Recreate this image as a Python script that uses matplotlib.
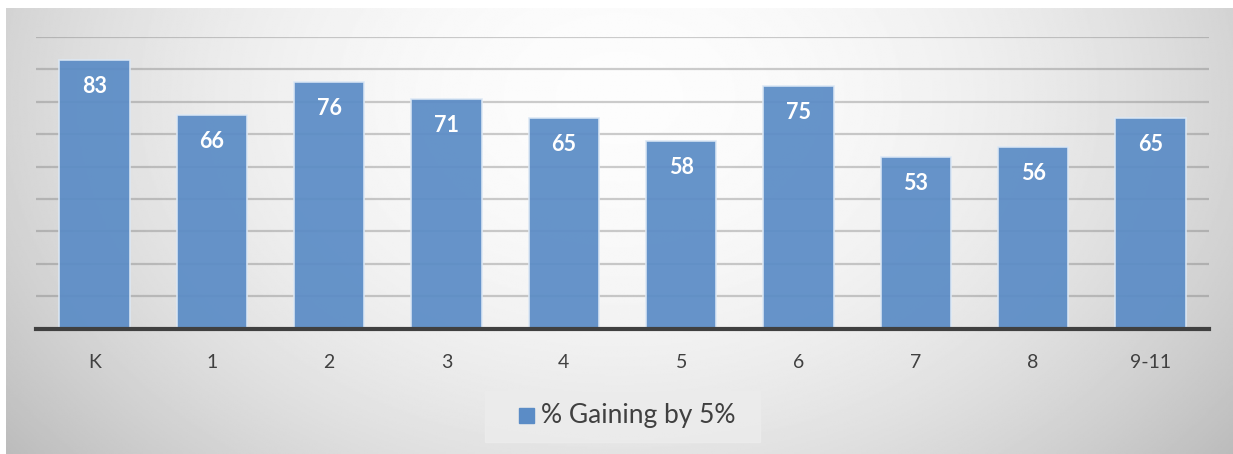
import numpy as np
import matplotlib
matplotlib.use("Agg")
from matplotlib import pyplot as plt
import matplotlib.patches as mpatches

grades = ["K", "1", "2", "3", "4", "5", "6", "7", "8", "9-11"]
pct_gaining = [83, 66, 76, 71, 65, 58, 75, 53, 56, 65]
series_name = "% Gaining by 5%"

bar_color = "#5b8cc6"
W, H = 1233, 454
plt.rcParams["font.family"] = ["Lato", "DejaVu Sans"]

fig = plt.figure(figsize=(W / 100, H / 100), dpi=100)

# grey background, lightest near the top middle
bg = fig.add_axes([6 / W, 0, 1 - 6 / W, 1 - 8 / H], zorder=0)
yy, xx = np.mgrid[0:1:300j, 0:1:800j]
r2 = ((xx - 0.5) / 0.62) ** 2 + ((yy - 0.8) / 1.25) ** 2
shade = np.clip(0.99 - 0.24 * r2, 0.72, 1)
bg.imshow(shade, cmap="gray", vmin=0, vmax=1, aspect="auto",
          extent=[0, 1, 0, 1], origin="lower")
bg.set_axis_off()

ax = fig.add_axes([36 / W, 1 - 328.5 / H, (1209 - 36) / W, (328.5 - 37) / H], zorder=1)
ax.patch.set_alpha(0)
x = np.arange(len(grades))
bars = ax.bar(x, pct_gaining, width=0.6, color=bar_color, alpha=0.93,
              edgecolor="#dce8f5", linewidth=1.2, zorder=3)
for b, v in zip(bars, pct_gaining):
    ax.text(b.get_x() + b.get_width() / 2, v - 8.2, str(v), ha="center", va="center",
            color="white", fontsize=15.5, fontweight="bold", zorder=4)

ax.set_xlim(-0.5, len(grades) - 0.5)
ax.set_ylim(0, 90)
ax.set_yticks(np.arange(10, 91, 10))
ax.yaxis.grid(True, color="#707070", alpha=0.35, linewidth=1.6, zorder=1)
ax.tick_params(axis="y", left=False, labelleft=False)
ax.tick_params(axis="x", bottom=False, labelsize=14, labelcolor="#404040", pad=15)
ax.set_xticks(x)
ax.set_xticklabels(grades)
for s in ["top", "right", "left"]:
    ax.spines[s].set_visible(False)
ax.spines["bottom"].set_color("#404040")
ax.spines["bottom"].set_linewidth(3)
ax.spines["bottom"].set_zorder(5)

# legend box
fig.patches.append(mpatches.Rectangle((485 / W, 1 - 442 / H), 275 / W, 51 / H,
                                      transform=fig.transFigure, color="#ececec",
                                      alpha=0.85, zorder=2))
fig.patches.append(mpatches.Rectangle((519 / W, 1 - 423 / H), 15 / W, 15 / H,
                                      transform=fig.transFigure, color=bar_color, zorder=3))
fig.text(541 / W, 1 - 416 / H, series_name, ha="left", va="center",
         fontsize=19, color="#404040", zorder=4)

fig.savefig("out.png", dpi=100)
